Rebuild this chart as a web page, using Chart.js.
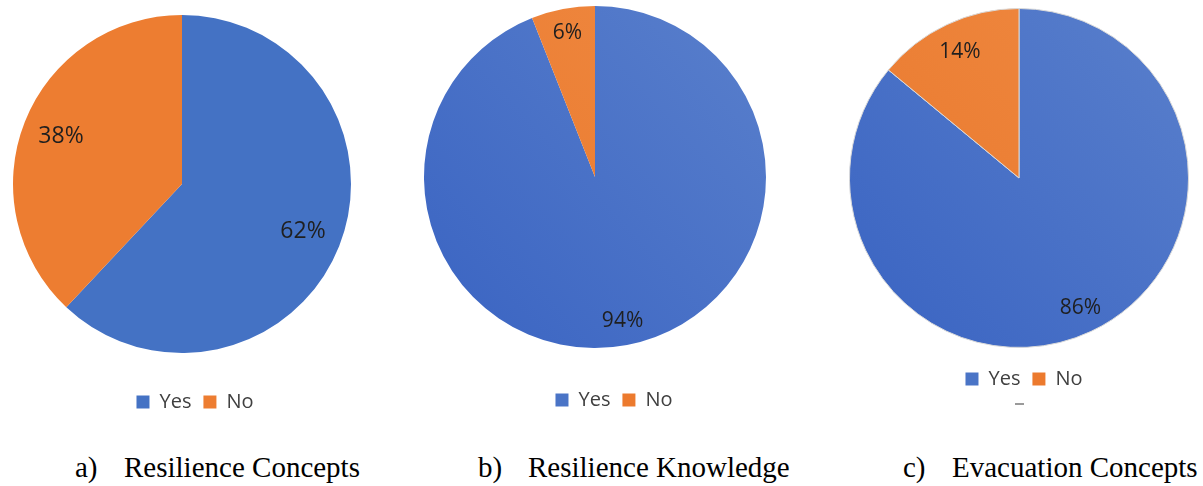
<!DOCTYPE html>
<html>
<head>
<meta charset="utf-8">
<script src="https://cdn.jsdelivr.net/npm/chart.js@4"></script>
<style>
  body { margin: 0; background: #fff; width: 1203px; height: 486px; position: relative; overflow: hidden; }
  .box { position: absolute; }
  .caption { position: absolute; top: 451px; font-family: "Liberation Serif", "Times New Roman", serif; font-size: 29px; color: #000; white-space: nowrap; }
  .caption span { position: absolute; left: 0; }
  .tick { position: absolute; left: 1015px; top: 403px; width: 9px; height: 2px; background: #9a9a9a; }
</style>
</head>
<body>
<div class="box" style="left:0;top:0;width:364px;height:422px"><canvas id="chartA"></canvas></div>
<div class="box" style="left:410px;top:0;width:370px;height:420px"><canvas id="chartB"></canvas></div>
<div class="box" style="left:837px;top:0;width:364px;height:399px"><canvas id="chartC"></canvas></div>

<div class="caption" style="left:75px"><span>a)</span><span style="left:49px">Resilience Concepts</span></div>
<div class="caption" style="left:478px"><span>b)</span><span style="left:50px">Resilience Knowledge</span></div>
<div class="caption" style="left:903px"><span>c)</span><span style="left:49px">Evacuation Concepts</span></div>
<div class="tick"></div>

<script>
const answers = ['Yes', 'No'];
const conceptsShare = [62, 38];
const knowledgeShare = [94, 6];
const evacuationShare = [86, 14];

const flatColors = ['#4472C4', '#ED7D31'];
// light / dark ends for the shaded pies
const shadeColors = [['#5a80cc', '#3963c2'], ['#f08a42', '#e8762a']];

// percentage text inside each slice
const sliceLabels = {
    id: 'sliceLabels',
    afterDatasetsDraw(chart, args, opts) {
        const ctx = chart.ctx;
        const meta = chart.getDatasetMeta(0);
        const values = chart.data.datasets[0].data;
        ctx.save();
        ctx.font = opts.size + 'px "Open Sans", sans-serif';
        ctx.fillStyle = '#1f1f1f';
        ctx.textAlign = 'center';
        ctx.textBaseline = 'middle';
        meta.data.forEach((arc, i) => {
            const mid = (arc.startAngle + arc.endAngle) / 2;
            const r = arc.outerRadius * opts.pos[i];
            ctx.fillText(values[i] + '%', arc.x + Math.cos(mid) * r, arc.y + Math.sin(mid) * r);
        });
        ctx.restore();
    }
};

// slide the legend sideways without moving the pie
const legendShift = {
    id: 'legendShift',
    afterLayout(chart, args, opts) {
        chart.legend.left += opts.dx;
        chart.legend.right += opts.dx;
    }
};

function shaded(c) {
    const [light, dark] = shadeColors[c.index];
    const area = c.chart.chartArea;
    if (!area) return dark;
    const g = c.chart.ctx.createLinearGradient(area.right, area.top, area.left, area.bottom);
    g.addColorStop(0, light);
    g.addColorStop(1, dark);
    return g;
}

function makePie(id, values, colors, o) {
    return new Chart(document.getElementById(id), {
        type: 'pie',
        data: {
            labels: answers,
            datasets: [{
                data: values,
                backgroundColor: colors,
                borderWidth: o.border,
                borderColor: '#d9d9d9',
                hoverOffset: 0
            }]
        },
        options: {
            responsive: true,
            maintainAspectRatio: false,
            animation: false,
            layout: { padding: { top: o.top } },
            plugins: {
                legend: {
                    display: true,
                    position: 'bottom',
                    title: { display: true, text: '', font: { size: 1, lineHeight: 1 }, padding: { top: o.gap, bottom: 0 } },
                    labels: {
                        boxWidth: 13,
                        boxHeight: 13,
                        padding: 12,
                        color: '#404040',
                        font: { family: '"Open Sans", sans-serif', size: 20 },
                        generateLabels(chart) {
                            const items = Chart.overrides.pie.plugins.legend.labels.generateLabels(chart);
                            items.forEach((it, i) => { it.fillStyle = o.keys[i]; it.strokeStyle = o.keys[i]; it.lineWidth = 0; });
                            return items;
                        }
                    }
                },
                tooltip: { enabled: false },
                sliceLabels: { size: o.labelSize, pos: o.labelPos },
                legendShift: { dx: o.dx }
            }
        },
        plugins: [sliceLabels, legendShift]
    });
}

makePie('chartA', conceptsShare, flatColors,
    { top: 15, gap: 26, dx: 13, border: 0, labelSize: 23, labelPos: [0.77, 0.77], keys: flatColors });
makePie('chartB', knowledgeShare, shaded,
    { top: 6, gap: 29, dx: 19, border: 0, labelSize: 21, labelPos: [0.86, 0.86], keys: ['#4a74c6', '#ec7a2e'] });
makePie('chartC', evacuationShare, shaded,
    { top: 8, gap: 8, dx: 5, border: 1, labelSize: 21, labelPos: [0.85, 0.82], keys: ['#4a74c6', '#ec7a2e'] });
</script>
</body>
</html>
